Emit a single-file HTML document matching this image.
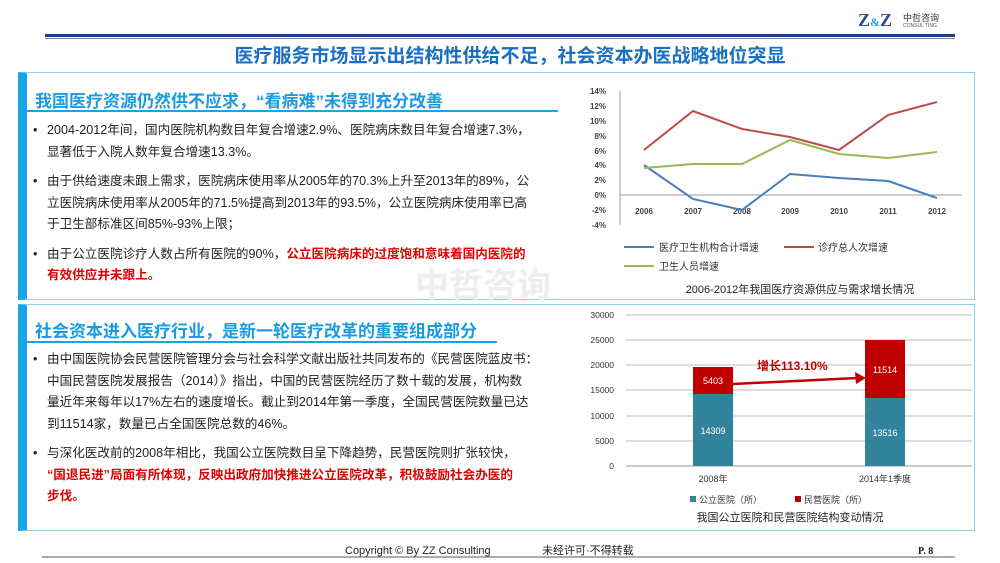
<!DOCTYPE html>
<html><head><meta charset="utf-8"><style>
body{margin:0;width:1000px;height:563px;background:#fff;position:relative;overflow:hidden;font-family:"Liberation Sans","Noto Sans CJK SC",sans-serif;}
.abs{position:absolute}
.box{position:absolute;left:18px;width:957px;border:1px solid #8fd3e6;border-left:9px solid #1aa3e6;box-sizing:border-box;background:#fff}
.st{position:absolute;left:8px;font-size:17px;font-weight:bold;color:#1a9be0;white-space:nowrap}
.ul{position:absolute;left:0;height:2px;background:#1aa3e6}
.tx{position:absolute;left:6px;width:560px;font-size:12.6px;line-height:21.5px;color:#222;white-space:nowrap}
.tx p{margin:0 0 8px 0;padding-left:14px;position:relative}
.tx p:before{content:"•";position:absolute;left:0}
.red{color:#e00000;font-weight:bold}
</style></head><body>
<div class="abs" style="left:858px;top:10px;font-family:'Liberation Serif',serif;font-size:18px;font-weight:bold;color:#2a4d8c">Z<span style="color:#1aa3e6;font-size:12px">&amp;</span>Z</div>
<div class="abs" style="left:903px;top:11px;font-size:9px;color:#333">中哲咨询</div>
<div class="abs" style="left:903px;top:23px;font-size:5px;color:#555">CONSUL TING</div>
<div class="abs" style="left:45px;top:34px;width:910px;height:3px;background:#1f3f82"></div>
<div class="abs" style="left:45px;top:38px;width:910px;height:1px;background:#7f8fb8"></div>
<div class="abs" style="left:0;width:1020px;top:41px;text-align:center;font-size:19px;font-weight:bold;color:#1a6fc0">医疗服务市场显示出结构性供给不足，社会资本办医战略地位突显</div>

<div class="box" style="top:72px;height:228px">
 <div class="st" style="top:14px">我国医疗资源仍然供不应求，“看病难”未得到充分改善</div>
 <div class="ul" style="top:37px;width:531px"></div>
 <div class="tx" style="top:47px">
  <p>2004-2012年间，国内医院机构数目年复合增速2.9%、医院病床数目年复合增速7.3%，<br>显著低于入院人数年复合增速13.3%。</p>
  <p>由于供给速度未跟上需求，医院病床使用率从2005年的70.3%上升至2013年的89%，公<br>立医院病床使用率从2005年的71.5%提高到2013年的93.5%，公立医院病床使用率已高<br>于卫生部标准区间85%-93%上限；</p>
  <p>由于公立医院诊疗人数占所有医院的90%，<span class="red">公立医院病床的过度饱和意味着国内医院的<br>有效供应并未跟上。</span></p>
 </div>
</div>
<div class="box" style="top:304px;height:227px">
 <div class="st" style="top:12px">社会资本进入医疗行业，是新一轮医疗改革的重要组成部分</div>
 <div class="ul" style="top:36px;width:470px"></div>
 <div class="tx" style="top:44px">
  <p>由中国医院协会民营医院管理分会与社会科学文献出版社共同发布的《民营医院蓝皮书：<br>中国民营医院发展报告（2014）》指出，中国的民营医院经历了数十载的发展，机构数<br>量近年来每年以17%左右的速度增长。截止到2014年第一季度，全国民营医院数量已达<br>到11514家，数量已占全国医院总数的46%。</p>
  <p>与深化医改前的2008年相比，我国公立医院数目呈下降趋势，民营医院则扩张较快，<br><span class="red">“国退民进”局面有所体现，反映出政府加快推进公立医院改革，积极鼓励社会办医的<br>步伐。</span></p>
 </div>
</div>
<div class="abs" style="left:415px;top:258px;font-size:34px;color:#eee;font-weight:bold">中哲咨询</div>

<svg class="abs" style="left:0;top:0" width="1000" height="563" font-family="Liberation Sans,Noto Sans CJK SC,sans-serif">
 <g font-size="8" font-weight="bold" fill="#444" text-anchor="end">
  <text x="606" y="94">14%</text><text x="606" y="109">12%</text><text x="606" y="124">10%</text><text x="606" y="139">8%</text><text x="606" y="154">6%</text><text x="606" y="168">4%</text><text x="606" y="183">2%</text><text x="606" y="198">0%</text><text x="606" y="213">-2%</text><text x="606" y="228">-4%</text>
 </g>
 <line x1="620" y1="91" x2="620" y2="225" stroke="#999"/>
 <line x1="620" y1="195" x2="962" y2="195" stroke="#999"/>
 <g font-size="8" font-weight="bold" fill="#444" text-anchor="middle">
  <text x="644" y="214">2006</text><text x="693" y="214">2007</text><text x="742" y="214">2008</text><text x="790" y="214">2009</text><text x="839" y="214">2010</text><text x="888" y="214">2011</text><text x="937" y="214">2012</text>
 </g>
 <polyline fill="none" stroke="#4a7ebb" stroke-width="2" points="644,165 693,199 742,210 790,174 839,178 888,181 937,198"/>
 <polyline fill="none" stroke="#be4b48" stroke-width="2" points="644,150 693,111 742,129 790,137 839,150 888,115 937,102"/>
 <polyline fill="none" stroke="#98b954" stroke-width="2" points="644,168 693,164 742,164 790,140 839,154 888,158 937,152"/>
 <line x1="624" y1="247" x2="654" y2="247" stroke="#4a7ebb" stroke-width="2"/>
 <text x="659" y="251" font-size="10" fill="#333">医疗卫生机构合计增速</text>
 <line x1="784" y1="247" x2="814" y2="247" stroke="#be4b48" stroke-width="2"/>
 <text x="818" y="251" font-size="10" fill="#333">诊疗总人次增速</text>
 <line x1="624" y1="266" x2="654" y2="266" stroke="#98b954" stroke-width="2"/>
 <text x="659" y="270" font-size="10" fill="#333">卫生人员增速</text>
 <text x="800" y="293" font-size="11" fill="#222" text-anchor="middle">2006-2012年我国医疗资源供应与需求增长情况</text>

 <g stroke="#bbb"><line x1="626" y1="315" x2="972" y2="315"/><line x1="626" y1="340" x2="972" y2="340"/><line x1="626" y1="365" x2="972" y2="365"/><line x1="626" y1="390" x2="972" y2="390"/><line x1="626" y1="416" x2="972" y2="416"/><line x1="626" y1="441" x2="972" y2="441"/><line x1="626" y1="466" x2="972" y2="466" stroke="#999"/></g>
 <g font-size="8.5" fill="#333" text-anchor="end">
  <text x="614" y="318">30000</text><text x="614" y="343">25000</text><text x="614" y="368">20000</text><text x="614" y="393">15000</text><text x="614" y="419">10000</text><text x="614" y="444">5000</text><text x="614" y="469">0</text>
 </g>
 <rect x="693" y="394" width="40" height="72" fill="#31849b"/>
 <rect x="693" y="367" width="40" height="27" fill="#c00000"/>
 <rect x="865" y="398" width="40" height="68" fill="#31849b"/>
 <rect x="865" y="340" width="40" height="58" fill="#c00000"/>
 <g font-size="9" fill="#fff" text-anchor="middle"><text x="713" y="384">5403</text><text x="713" y="434">14309</text><text x="885" y="373">11514</text><text x="885" y="436">13516</text></g>
 <line x1="733" y1="384" x2="858" y2="378" stroke="#c00000" stroke-width="2.5"/>
 <polygon points="866,378 855,372 856,384" fill="#c00000"/>
 <text x="757" y="370" font-size="12" font-weight="bold" fill="#c00000">增长113.10%</text>
 <g font-size="9" fill="#333" text-anchor="middle"><text x="713" y="482">2008年</text><text x="885" y="482">2014年1季度</text></g>
 <rect x="690" y="496" width="6" height="6" fill="#31849b"/><text x="699" y="503" font-size="9" fill="#333">公立医院（所）</text>
 <rect x="795" y="496" width="6" height="6" fill="#c00000"/><text x="804" y="503" font-size="9" fill="#333">民营医院（所）</text>
 <text x="790" y="521" font-size="11" fill="#222" text-anchor="middle">我国公立医院和民营医院结构变动情况</text>

 <line x1="42" y1="557" x2="955" y2="557" stroke="#556" stroke-width="1"/>
 <text x="345" y="554" font-size="11" fill="#222">Copyright © By  ZZ Consulting</text>
 <text x="542" y="554" font-size="11" fill="#222">未经许可·不得转载</text>
 <text x="918" y="554" font-size="10" font-weight="bold" fill="#222" font-family="Liberation Serif,serif">P. 8</text>
</svg>
</body></html>
